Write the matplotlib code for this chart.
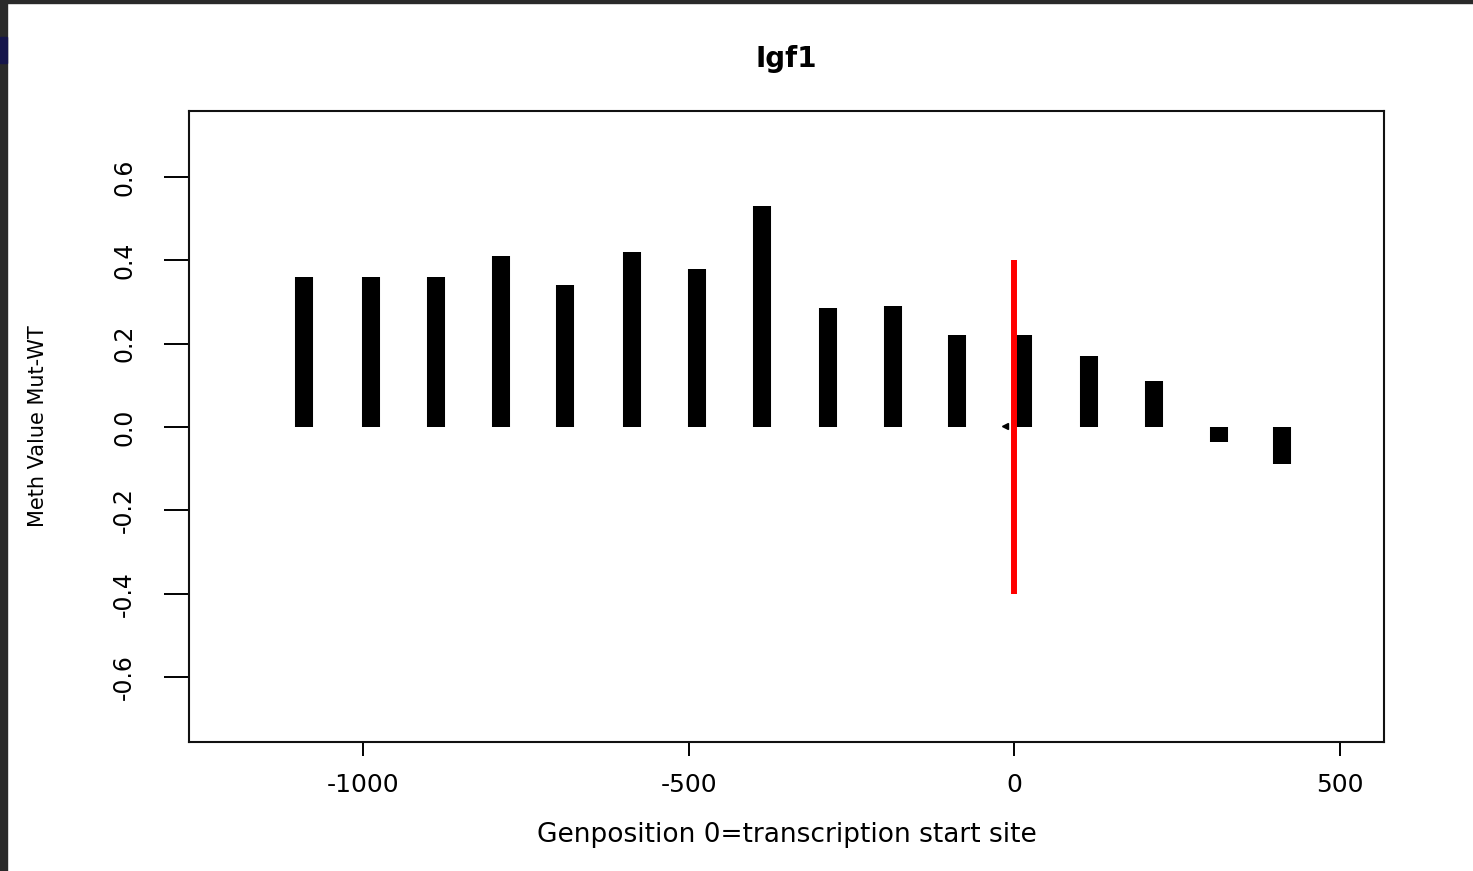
import numpy as np
import matplotlib.pyplot as plt
from matplotlib.patches import Rectangle

# genomic positions relative to TSS and methylation difference (Mut - WT)
positions = [-1091, -988, -888, -789, -690, -588, -488, -388,
             -286, -186, -88, 14, 115, 214, 314, 412]
meth_diff = [0.36, 0.36, 0.36, 0.41, 0.34, 0.42, 0.38, 0.53,
             0.285, 0.29, 0.22, 0.22, 0.17, 0.11, -0.035, -0.09]

# tiny near-zero point just left of the TSS
small_pos = [-14]
small_val = [0.003]

# red TSS marker
tss_x = 0
tss_range = [-0.4, 0.4]

xticks = [-1000, -500, 0, 500]
yticks = [-0.6, -0.4, -0.2, 0.0, 0.2, 0.4, 0.6]

fig = plt.figure(figsize=(14.73, 8.71), dpi=100)
ax = fig.add_axes([189 / 1473, 1 - 742 / 871, 1195 / 1473, 631 / 871])

ax.vlines(positions, 0, meth_diff, colors='black', linewidth=13, capstyle='butt')
ax.plot(small_pos, small_val, marker='<', ms=5, color='black', linestyle='none')
ax.vlines([tss_x], tss_range[0], tss_range[1], colors='red', linewidth=4.3)

ax.set_xlim(-1268, 568)
ax.set_ylim(-0.756, 0.758)

ax.set_xticks(xticks)
ax.set_xticklabels([str(t) for t in xticks])
ax.set_yticks(yticks)
ax.set_yticklabels(['%.1f' % t for t in yticks])

ax.tick_params(axis='x', length=10, width=1.4, pad=12, labelsize=18, direction='out')
ax.tick_params(axis='y', length=18, width=1.4, pad=20, labelsize=17, direction='out')
for lab in ax.get_yticklabels():
    lab.set_rotation(90)
    lab.set_va('center')

for sp in ax.spines.values():
    sp.set_linewidth(1.5)
    sp.set_color('#111111')

ax.set_title('Igf1', fontsize=20, fontweight='bold', pad=32)
ax.set_xlabel('Genposition 0=transcription start site', fontsize=19)
ax.xaxis.set_label_coords(0.5, -0.126)
ax.set_ylabel('Meth Value Mut-WT', fontsize=15)
ax.yaxis.set_label_coords(-0.118, 0.5)

# dark screenshot frame
fig.patches.append(Rectangle((0, 1 - 3 / 871), 1, 3 / 871, transform=fig.transFigure,
                             color='#2a2a2a', zorder=10))
fig.patches.append(Rectangle((0, 0), 7 / 1473, 1, transform=fig.transFigure,
                             color='#2a2a2a', zorder=10))
fig.patches.append(Rectangle((0, 1 - 63 / 871), 7 / 1473, 26 / 871, transform=fig.transFigure,
                             color='#15154a', zorder=11))

fig.savefig('out.png', dpi=100)
